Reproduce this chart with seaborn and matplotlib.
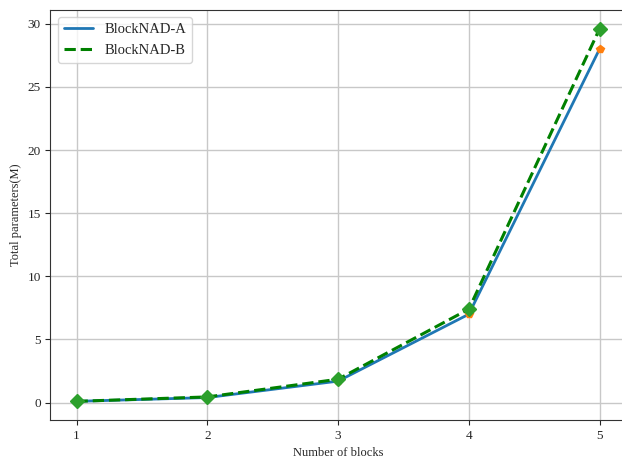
import pandas as pd
import matplotlib.pyplot as plt
import seaborn as sns

blocks = [1, 2, 3, 4, 5]
params_a = [0.1, 0.4, 1.7, 7.0, 28.0]
params_b = [0.1, 0.45, 1.85, 7.4, 29.6]

sns.set_style("ticks")
plt.rcParams['font.family'] = ['Liberation Serif', 'DejaVu Serif']

df = pd.DataFrame({'blocks': blocks, 'A': params_a, 'B': params_b})

fig = plt.figure(figsize=(6.22, 4.61), dpi=100)
ax = fig.add_axes([0.081, 0.089, 0.925, 0.889])

sns.lineplot(data=df, x='blocks', y='A', ax=ax, color='#1f77b4',
             linewidth=2, label='BlockNAD-A')
sns.lineplot(data=df, x='blocks', y='B', ax=ax, color='green',
             linestyle='--', linewidth=2.2, label='BlockNAD-B')
ax.plot(df['blocks'], df['A'], linestyle='none', marker='p',
        color='#ff7f0e', markersize=6)
ax.plot(df['blocks'], df['B'], linestyle='none', marker='D',
        color='#2ca02c', markersize=7)

ax.set_xticks(blocks)
ax.set_xlabel('Number of blocks', fontsize=9)
ax.set_ylabel('Total parameters(M)', fontsize=9)
ax.tick_params(labelsize=9.5)
ax.grid(True, color='#c8c8c8', linewidth=1)
for s in ax.spines.values():
    s.set_color('#333333')
ax.legend(loc='upper left', fontsize=10.5, handlelength=2.0)

plt.savefig('out.png', dpi=100)
